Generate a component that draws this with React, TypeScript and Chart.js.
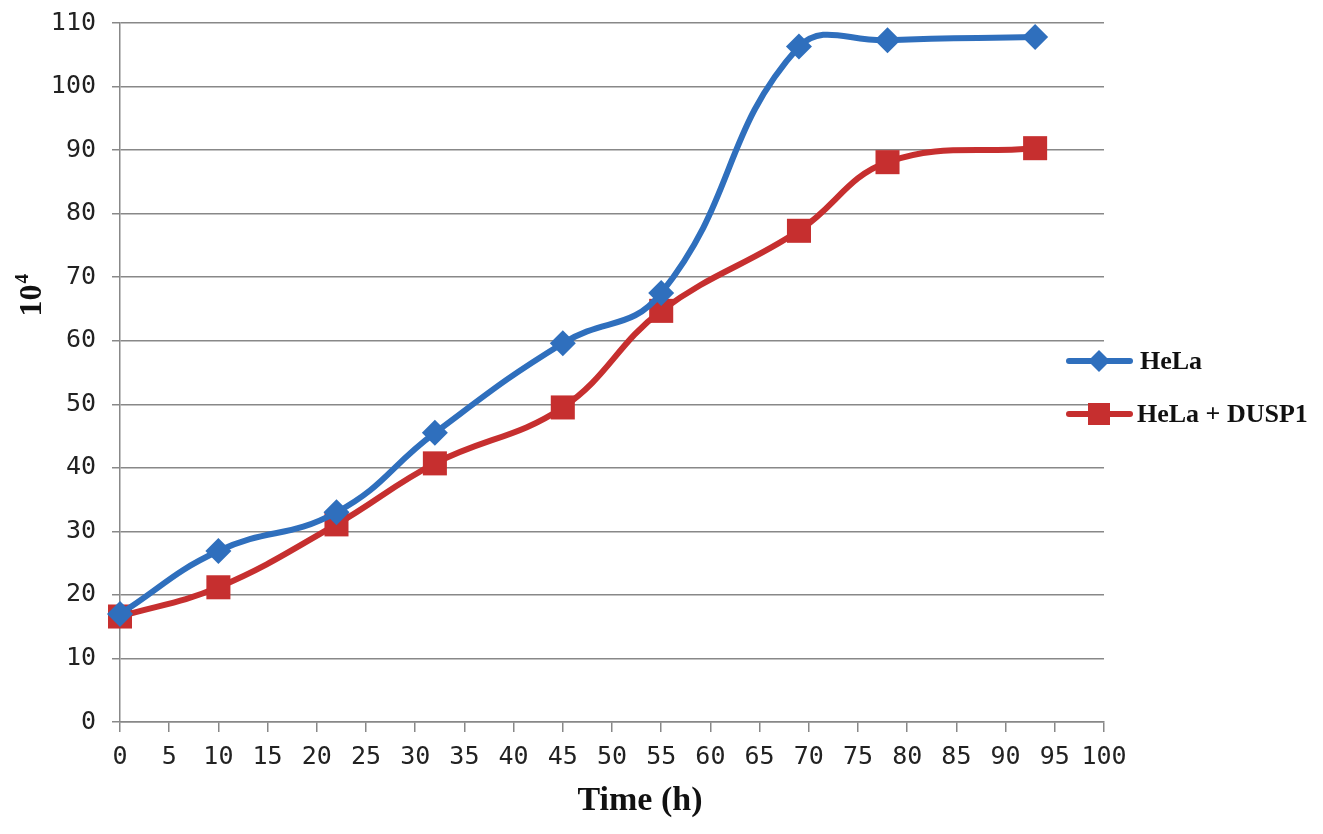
import React, { useEffect, useRef } from "react";
import { Chart, registerables } from "chart.js";

Chart.register(...registerables);

const timeHours = [0, 10, 22, 32, 45, 55, 69, 78, 93];
const helaValues = [17, 26.9, 33.0, 45.5, 59.6, 67.5, 106.3, 107.3, 107.8];
const dusp1Values = [16.6, 21.2, 31.1, 40.7, 49.5, 64.7, 77.3, 88.1, 90.3];
const seriesLabels = ["HeLa", "HeLa + DUSP1"];
const xTitle = "Time (h)";
const yTitleBase = "10";
const yTitleSup = "4";

const BLUE = "#2f6fbd";
const RED = "#c62f2f";
const TICK_FONT = "'DejaVu Sans Mono', monospace";
const SERIF = "'Liberation Serif', 'DejaVu Serif', serif";

const overlayPlugin = {
  id: "overlay",
  afterDraw(chart: any) {
    const ctx = chart.ctx;
    const area = chart.chartArea;
    ctx.save();
    // x title
    ctx.fillStyle = "#111";
    ctx.font = `bold 34px ${SERIF}`;
    ctx.textAlign = "center";
    ctx.textBaseline = "middle";
    ctx.fillText(xTitle, 640, 801);
    // y title rotated
    ctx.save();
    ctx.translate(32, 294);
    ctx.rotate(-Math.PI / 2);
    ctx.font = `bold 32px ${SERIF}`;
    ctx.textAlign = "left";
    ctx.textBaseline = "middle";
    const w = ctx.measureText(yTitleBase).width;
    const total = w + 13;
    ctx.fillText(yTitleBase, -total / 2, 1);
    ctx.font = `bold 19px ${SERIF}`;
    ctx.fillText(yTitleSup, -total / 2 + w + 1, -9);
    ctx.restore();

    // legend
    const items = chart.data.datasets;
    const ys = [361, 414];
    items.forEach((ds: any, i: number) => {
      const y = ys[i];
      ctx.strokeStyle = ds.borderColor;
      ctx.lineWidth = 6;
      ctx.lineCap = "round";
      ctx.beginPath();
      ctx.moveTo(area.right - 35, y);
      ctx.lineTo(area.right + 26, y);
      ctx.stroke();
      ctx.fillStyle = ds.pointBackgroundColor;
      const cx = area.right - 5;
      if (ds.pointStyle === "rectRot") {
        ctx.beginPath();
        ctx.moveTo(cx, y - 11);
        ctx.lineTo(cx + 11, y);
        ctx.lineTo(cx, y + 11);
        ctx.lineTo(cx - 11, y);
        ctx.closePath();
        ctx.fill();
      } else {
        ctx.fillRect(cx - 11, y - 11, 22, 22);
      }
      ctx.fillStyle = "#111";
      ctx.font = `bold 26px ${SERIF}`;
      ctx.textAlign = "left";
      ctx.textBaseline = "middle";
      ctx.fillText(ds.label, area.right + (i === 0 ? 36 : 33), y + 1);
    });
    ctx.restore();
  },
};

export default function App() {
  const ref = useRef<HTMLCanvasElement>(null);
  useEffect(() => {
    if (!ref.current) return;
    const chart = new Chart(ref.current, {
      type: "line",
      data: {
        datasets: [
          {
            label: seriesLabels[0],
            data: timeHours.map((t, i) => ({ x: t, y: helaValues[i] })),
            borderColor: BLUE,
            backgroundColor: BLUE,
            pointBackgroundColor: BLUE,
            pointBorderColor: BLUE,
            pointStyle: "rectRot",
            pointRadius: 13,
            pointBorderWidth: 0,
            borderWidth: 6,
            tension: 0.45,
          },
          {
            label: seriesLabels[1],
            data: timeHours.map((t, i) => ({ x: t, y: dusp1Values[i] })),
            borderColor: RED,
            backgroundColor: RED,
            pointBackgroundColor: RED,
            pointBorderColor: RED,
            pointStyle: "rect",
            pointRadius: 17,
            pointBorderWidth: 0,
            borderWidth: 6,
            tension: 0.4,
          },
        ],
      },
      options: {
        responsive: false,
        animation: false,
        clip: false as any,
        layout: { padding: { top: 23, right: 219, left: 0, bottom: 0 } },
        plugins: {
          legend: { display: false },
          tooltip: { enabled: false },
        },
        scales: {
          x: {
            type: "linear",
            min: 0,
            max: 100,
            ticks: {
              stepSize: 5,
              color: "#222",
              font: { family: TICK_FONT, size: 25 },
              padding: 10,
              maxRotation: 0,
              autoSkip: false,
            },
            grid: {
              drawOnChartArea: false,
              drawTicks: true,
              tickLength: 10,
              color: "#888",
              lineWidth: 1.5,
            },
            border: { color: "#888", width: 1.5 },
            afterFit: (s: any) => {
              s.height = 112;
              s.paddingLeft = 0;
              s.paddingRight = 0;
            },
          },
          y: {
            min: 0,
            max: 110,
            ticks: {
              stepSize: 10,
              color: "#222",
              font: { family: TICK_FONT, size: 25 },
              padding: 16,
            },
            grid: {
              color: "#888",
              lineWidth: 1.5,
              tickLength: 8,
            },
            border: { color: "#888", width: 1.5 },
            afterFit: (s: any) => {
              s.width = 120;
              s.paddingTop = 0;
              s.paddingBottom = 0;
            },
          },
        },
      },
      plugins: [overlayPlugin],
    });
    return () => chart.destroy();
  }, []);
  return (
    <div style={{ position: "fixed", left: 0, top: 0, width: 1323, height: 834, background: "#fff" }}>
      <canvas ref={ref} width={1323} height={834} />
    </div>
  );
}
